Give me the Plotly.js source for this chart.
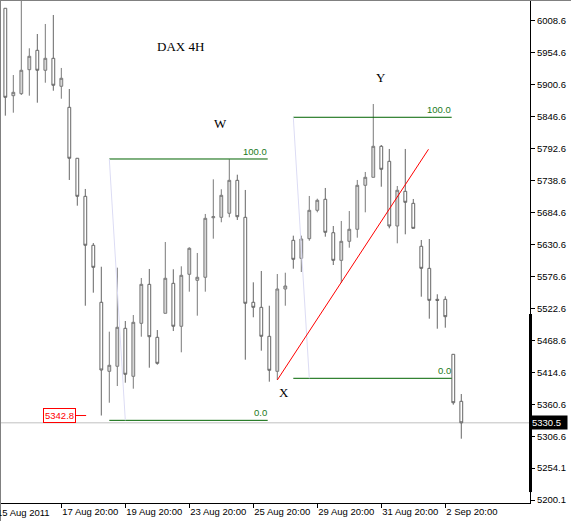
<!DOCTYPE html>
<html>
<head>
<meta charset="utf-8">
<script src="https://cdn.plot.ly/plotly-3.0.1.min.js"></script>
<style>
  html, body { margin: 0; padding: 0; background: #ffffff; }
  #chart { width: 571px; height: 521px; }
</style>
</head>
<body>
<div id="chart"></div>
<script>
// ---- data ----
const barIndex = [0,1,2,3,4,5,6,7,8,9,10,11,12,13,14,15,16,17,18,19,20,21,22,23,24,25,26,27,28,29,
  30,31,32,33,34,35,36,37,38,39,40,41,42,43,44,45,46,47,48,49,50,51,52,53,54,55,56,57];
const openP = [6030.0,5882.5,5885.9,5926.4,5959.1,5925.4,5945.6,5898.4,5862.9,5776.9,
  5712.7,5630.1,5533.9,5417.4,5425.9,5490.0,5409.0,5498.4,5564.2,5474.8,
  5515.3,5565.9,5493.4,5581.1,5571.0,5576.1,5676.6,5677.3,5684.1,5739.7,
  5677.3,5533.9,5525.4,5476.5,5417.4,5556.3,5638.5,5608.1,5641.2,5689.1,
  5707.7,5651.3,5604.7,5636.8,5657.1,5731.3,5744.8,5797.1,5771.8,5662.6,
  5721.2,5700.9,5628.4,5591.2,5538.9,5538.9,5446.1,5366.8];
const highP = [6030.0,5917.4,6060.0,5962.5,5986.6,6003.5,6018.7,5929.3,5893.8,5776.9,
  5725.1,5633.9,5593.9,5484.3,5592.3,5502.3,5512.4,5574.9,5590.1,5487.1,
  5635.6,5589.6,5594.6,5626.7,5617.1,5682.9,5741.4,5724.6,5775.2,5749.2,
  5723.4,5567.6,5586.7,5528.1,5581.6,5583.8,5646.3,5646.3,5713.3,5708.7,
  5726.8,5662.6,5671.1,5687.9,5740.3,5753.8,5868.5,5799.3,5792.6,5730.1,
  5792.6,5708.2,5639.0,5640.7,5547.4,5544.0,5446.1,5379.1];
const lowP = [5848.8,5853.8,5883.7,5882.5,5870.7,5904.4,5890.9,5877.4,5740.3,5696.9,
  5528.1,5550.1,5342.8,5364.4,5392.6,5398.2,5388.1,5475.8,5423.5,5428.6,
  5515.3,5485.4,5449.5,5551.8,5511.3,5551.8,5641.2,5668.9,5677.3,5672.8,
  5437.0,5508.6,5452.2,5399.9,5402.8,5528.1,5590.6,5585.0,5637.8,5685.7,
  5644.6,5596.8,5566.9,5626.0,5642.9,5685.7,5744.8,5728.9,5658.7,5633.4,
  5648.6,5658.7,5543.3,5506.2,5489.3,5491.0,5361.1,5303.7];
const closeP = [5879.8,5888.2,5925.4,5949.0,5925.4,5945.6,5900.1,5911.9,5776.9,5712.7,
  5630.1,5592.9,5419.6,5427.6,5491.7,5412.4,5500.1,5564.2,5475.8,5430.9,
  5574.4,5493.4,5579.4,5625.0,5576.1,5675.6,5678.3,5714.4,5739.7,5678.3,
  5532.2,5525.4,5476.5,5419.1,5556.3,5561.4,5606.4,5640.7,5689.1,5706.0,
  5652.0,5604.7,5636.8,5657.1,5731.3,5744.8,5797.1,5758.3,5662.6,5722.9,
  5702.6,5658.7,5591.2,5537.2,5537.2,5509.6,5364.4,5330.5];

const xTickVals = [7,15,23,31,39,47,55];
const xTickText = ["17 Aug 20:00","19 Aug 20:00","23 Aug 20:00","25 Aug 20:00",
  "29 Aug 20:00","31 Aug 20:00","2 Sep 20:00"];
const firstDateLabel = "15 Aug 2011";
const yTickVals = [6008.6,5954.6,5900.6,5846.6,5792.6,5738.6,5684.6,5630.6,5576.6,5522.6,
  5468.6,5414.6,5360.6,5306.6,5254.1,5200.1];
const yTickText = yTickVals.map(v => v.toFixed(1));

// Fibonacci objects: [startBar, endBar, level100, level0, diagEndBar]
const fibW = [13, 32.8, 5775.7, 5334.7, 15];
const fibY = [36, 55.8, 5846.1, 5405.6, 38];
// trend line: [bar0, price0, bar1, price1]
const trendLine = [34, 5402.8, 52.9, 5792.1];
const lastPrice = 5330.5;
const markedLow = 5342.8;
// wave labels: [text, bar, price]
const waveLabels = [["W", 26.84, 5836.4], ["Y", 46.96, 5912.9], ["X", 34.88, 5382.0]];
const chartTitle = "DAX 4H";

// ---- drawing ----
const tickFont = {family: "Liberation Sans, Arial, sans-serif", size: 9.5, color: "#000000"};
const serifFont = {family: "Liberation Serif, Times New Roman, serif", size: 13, color: "#000000"};
const fibColor = "#006400";
const fibTextColor = "#1c7a1c";

const trace = {
  type: "candlestick",
  x: barIndex, open: openP, high: highP, low: lowP, close: closeP,
  increasing: {line: {color: "#7a7a7a", width: 1}, fillcolor: "#d6d6d6"},
  decreasing: {line: {color: "#666666", width: 1}, fillcolor: "#ffffff"},
  whiskerwidth: 0,
  hoverinfo: "skip",
  showlegend: false
};

function fibShapes(f) {
  return [
    {type: "line", xref: "x", yref: "y", x0: f[0], x1: f[1], y0: f[2], y1: f[2], line: {color: fibColor, width: 1}},
    {type: "line", xref: "x", yref: "y", x0: f[0], x1: f[1], y0: f[3], y1: f[3], line: {color: fibColor, width: 1}},
    {type: "line", xref: "x", yref: "y", x0: f[0], x1: f[4], y0: f[2], y1: f[3], line: {color: "#dcdcf4", width: 1}}
  ];
}
function fibAnn(f) {
  return [
    {xref: "x", yref: "y", x: f[1], y: f[2], text: "100.0", showarrow: false, xanchor: "right", yanchor: "bottom",
     font: {family: tickFont.family, size: 9.5, color: fibTextColor}, borderpad: 0, yshift: 1},
    {xref: "x", yref: "y", x: f[1], y: f[3], text: "0.0", showarrow: false, xanchor: "right", yanchor: "bottom",
     font: {family: tickFont.family, size: 9.5, color: fibTextColor}, borderpad: 0, yshift: 1}
  ];
}

const plotW = 529, plotH = 502;
const shapes = [
  {type: "line", xref: "paper", yref: "y", x0: 0, x1: 1, y0: lastPrice, y1: lastPrice, line: {color: "#c0c0c0", width: 1}, layer: "below"},
  ...fibShapes(fibW), ...fibShapes(fibY),
  {type: "line", xref: "x", yref: "y", x0: trendLine[0], y0: trendLine[1], x1: trendLine[2], y1: trendLine[3], line: {color: "#ff0000", width: 1}},
  {type: "line", xref: "x", yref: "y", x0: 8.8, x1: 10.1, y0: markedLow, y1: markedLow, line: {color: "#ff0000", width: 1}},
  {type: "line", xref: "paper", yref: "y", x0: 1 + 0.5 / plotW, x1: 1 + 0.5 / plotW, y0: 5213.7, y1: 5514.1, line: {color: "#000000", width: 3}},
  {type: "line", xref: "paper", yref: "paper", x0: -1 / plotW, x1: 570 / plotW, y0: 1 + 0.5 / plotH, y1: 1 + 0.5 / plotH, line: {color: "#808080", width: 1}},
  {type: "line", xref: "paper", yref: "paper", x0: -0.5 / plotW, x1: -0.5 / plotW, y0: -18 / plotH, y1: 1 + 1 / plotH, line: {color: "#808080", width: 1}}
];

const annotations = [
  {xref: "x", yref: "y", x: 21.96, y: 5965.2, text: chartTitle, showarrow: false, font: serifFont},
  ...waveLabels.map(w => ({xref: "x", yref: "y", x: w[1], y: w[2], text: w[0], showarrow: false, font: serifFont})),
  ...fibAnn(fibW), ...fibAnn(fibY),
  {xref: "x", yref: "y", x: 8.8, y: markedLow, text: markedLow.toFixed(1), showarrow: false, xanchor: "right", yanchor: "middle",
   font: {family: tickFont.family, size: 9.5, color: "#ff0000"}, bordercolor: "#ff0000", borderwidth: 1, borderpad: 1, bgcolor: "#ffffff"},
  {xref: "paper", yref: "y", x: 1, y: lastPrice, text: lastPrice.toFixed(1), showarrow: false, xanchor: "left", yanchor: "middle",
   font: {family: tickFont.family, size: 9.5, color: "#ffffff"}, bgcolor: "#000000", borderpad: 1, width: 34, align: "left"},
  {xref: "paper", yref: "paper", x: -4.6 / plotW, y: -3 / plotH, text: firstDateLabel, showarrow: false, xanchor: "left", yanchor: "top",
   font: tickFont, borderpad: 0}
];

const layout = {
  width: 571, height: 521,
  margin: {l: 1, r: 41, t: 1, b: 18, pad: 0},
  paper_bgcolor: "#ffffff", plot_bgcolor: "#ffffff",
  showlegend: false,
  boxgap: 0.5,
  xaxis: {
    type: "linear", range: [-0.54, 65.59], fixedrange: true,
    tickmode: "array", tickvals: xTickVals, ticktext: xTickText,
    ticks: "outside", ticklen: 4, tickcolor: "#000000", tickwidth: 1,
    ticklabelposition: "outside right", tickangle: 0,
    showline: true, linecolor: "#000000", linewidth: 1,
    showgrid: false, zeroline: false, tickfont: tickFont,
    rangeslider: {visible: false}
  },
  yaxis: {
    side: "right", range: [5195.2, 6042.3], fixedrange: true,
    tickmode: "array", tickvals: yTickVals, ticktext: yTickText,
    ticks: "outside", ticklen: 4, tickcolor: "#000000", tickwidth: 1,
    showline: true, linecolor: "#000000", linewidth: 1,
    showgrid: false, zeroline: false, tickfont: tickFont
  },
  shapes: shapes,
  annotations: annotations
};

Plotly.newPlot("chart", [trace], layout, {staticPlot: true, displayModeBar: false});
</script>
</body>
</html>
